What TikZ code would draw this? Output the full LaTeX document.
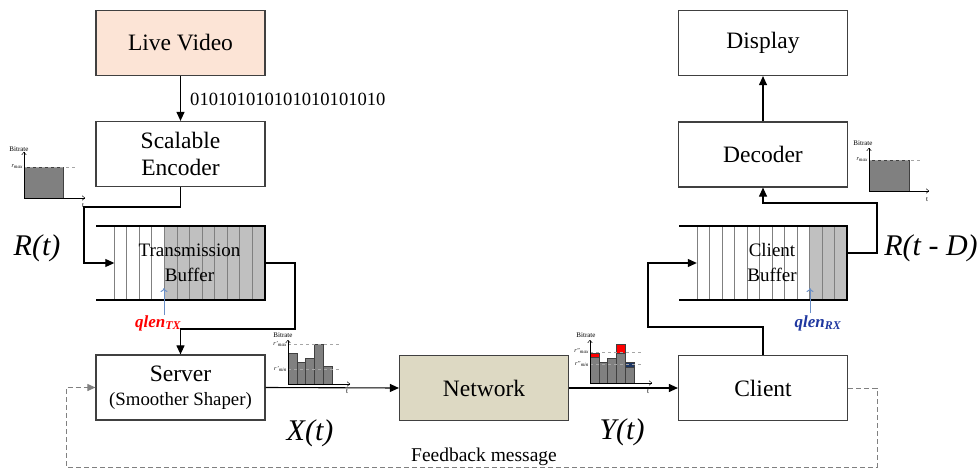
\documentclass[tikz,border=0pt]{standalone}
\usepackage{fontspec}
\setmainfont{Liberation Serif}
\usetikzlibrary{arrows.meta}
\definecolor{peach}{RGB}{252,228,214}
\definecolor{nettan}{RGB}{221,217,195}
\definecolor{bufgray}{RGB}{192,192,192}
\definecolor{bargray}{RGB}{128,128,128}
\definecolor{qblue}{RGB}{106,143,199}
\definecolor{qnavy}{RGB}{32,56,160}
\definecolor{boxline}{RGB}{64,64,64}
\definecolor{barnavy}{RGB}{31,56,100}
\definecolor{fbgray}{RGB}{128,128,128}
\begin{document}
\begin{tikzpicture}[x=1pt,y=-1pt,
  box/.style={draw=boxline, line width=1.2pt, minimum width=169pt, minimum height=65pt,
    inner sep=0pt, align=center, font=\fontsize{23.5}{27}\selectfont},
  buftext/.style={inner sep=0pt, align=center, minimum width=150pt, minimum height=74pt,
    font=\fontsize{19}{25}\selectfont},
  conn/.style={line width=1.1pt, -{Triangle[length=9pt,width=8pt]}},
  plainline/.style={line width=1.1pt},
  cellline/.style={draw=bargray, line width=0.8pt},
  bigital/.style={font=\itshape\fontsize{30}{34}\selectfont},
  axis/.style={line width=0.5pt, -{To[length=3pt,width=5pt]}},
  dashref/.style={dashed, draw=gray!70, line width=0.6pt},
  bar/.style={fill=bargray, draw=boxline, line width=0.6pt},
  tinylab/.style={font=\fontsize{7}{8}\selectfont, inner sep=0pt},
  rlab/.style={font=\itshape\fontsize{6}{7}\selectfont, inner sep=0pt, anchor=east},
  qlab/.style={font=\bfseries\itshape\fontsize{17}{20}\selectfont, inner sep=0pt},
  qarrow/.style={draw=qblue, line width=1pt, -{To[length=4pt,width=7pt]}},
  fb/.style={dashed, draw=fbgray, line width=1pt, dash pattern=on 5pt off 3pt}
]
\useasboundingbox (0,0) rectangle (979,470);

% ---------- main boxes ----------
\node[box, fill=peach] (live) at (180.5,43) {Live Video};
\node[box] (enc) at (180.5,154) {Scalable\\Encoder};
\node[box, font=\fontsize{23.5}{27}\selectfont] (srv) at (180.5,387.5)
  {Server\\[-3pt]{\fontsize{18.8}{22}\selectfont (Smoother Shaper)}};
\node[box, fill=nettan] (net) at (484,388) {Network};
\node[box] (cli) at (763,388) {Client};
\node[box] (dec) at (763,154.5) {Decoder};
\node[box] (disp) at (763,43) {Display};

% ---------- transmission buffer ----------
\fill[bufgray] (164.3,226) rectangle (265,300);
\foreach \i in {0,...,12} \draw[cellline] ({114+\i*12.583},226) -- ++(0,74);
\node[buftext] (txbuf) at (189.5,263) {Transmission\\Buffer};
\draw[plainline] (96,226) -- (265,226) -- (265,300) -- (96,300);

% ---------- client buffer ----------
\fill[bufgray] (810,226) rectangle (847,300);
\foreach \i in {0,...,12} \draw[cellline] ({697.3+\i*12.5},226) -- ++(0,74);
\node[buftext] (cbuf) at (772,263) {Client\\Buffer};
\draw[plainline] (679,226) -- (847,226) -- (847,300) -- (679,300);

% ---------- connectors ----------
\draw[conn] (live.south) -- (enc.north);
\node[anchor=west, inner sep=0pt, font=\fontsize{18.6}{22}\selectfont] (bits) at (190,99) {010101010101010101010};
\draw[conn] (enc.south) -- (180.5,207) -| (84,263) -- (txbuf.west);
\draw[conn] (txbuf.east) -- (295,263) |- (180.5,329) -- (srv.north);
\draw[conn] (srv.east) -- (net.west);
\draw[conn] (net.east) -- (cli.west);
\draw[conn] (cli.north) -- (763,327) -| (648,263) -- (cbuf.west);
\coordinate (cbufout) at (847,253);
\draw[conn] (cbufout) -- (877,253) |- (763,203) -- (dec.south);
\draw[conn] (dec.north) -- (disp.south);

% feedback
\draw[fb, -{Triangle[length=8pt,width=7pt]}] (cli.east) -- (877,388) |- (66,467) |- (srv.west);
\node[font=\fontsize{19.5}{22}\selectfont, inner sep=0pt] (fbmsg) at (484,457) {Feedback message};

% qlen markers
\node[qlab, text=red] (qtx) at (158,323) {qlen\textsubscript{TX}};
\draw[qarrow] (164,315) -- (164,288);
\node[qlab, text=qnavy] (qrx) at (818,323) {qlen\textsubscript{RX}};
\draw[qarrow] (810,313) -- (810,288);

% big labels
\node[bigital] (rt) at (37,248) {R(t)};
\node[bigital] (rtd) at (931,248) {R(t - D)};
\node[bigital] (xt) at (310,433) {X(t)};
\node[bigital] (yt) at (622,432) {Y(t)};

% ---------- chart: encoder ----------
\fill[bar] (24,167) rectangle (63,198);
\draw[dashref] (24,167) -- (76,167);
\draw[axis] (24,198) -- (24,152);
\draw[axis] (24,198) -- (85,198);
\node[tinylab] at (19,149) {Bitrate};
\node[rlab] at (23,167) {r\textsubscript{max}};
\node[tinylab] at (83,206) {t};

% ---------- chart: server ----------
\foreach \x/\t in {0/353,1/362,2/358,3/344,4/366}
  \draw[bar] ({288+\x*8.8},\t) rectangle ({288+(\x+1)*8.8},384);
\draw[dashref] (288,344) -- (340,344);
\draw[dashref] (288,369) -- (340,369);
\draw[axis] (288,384) -- (288,340);
\draw[axis] (288,384) -- (350,384);
\node[tinylab] at (283,335) {Bitrate};
\node[rlab] at (287,344) {r'\textsubscript{max}};
\node[rlab] at (287,369) {r'\textsubscript{min}};
\node[tinylab] at (347,392) {t};

% ---------- chart: network ----------
\foreach \x/\t in {0/357,1/362,2/358,3/353,4/367}
  \draw[bar] ({590+\x*8.8},\t) rectangle ({590+(\x+1)*8.8},383);
\draw[fill=red, draw=boxline, line width=0.6pt] (590,353) rectangle (598.8,357);
\draw[fill=red, draw=boxline, line width=0.6pt] (616.4,344) rectangle (625.2,353);
\draw[fill=barnavy, draw=boxline, line width=0.6pt] (625.2,362) rectangle (634,367);
\draw[dashref] (590,352) -- (641,352);
\draw[dashref] (590,364) -- (641,364);
\draw[axis] (590,383) -- (590,340);
\draw[axis] (590,383) -- (652,383);
\node[tinylab] at (586,335) {Bitrate};
\node[rlab] at (589,351) {r''\textsubscript{max}};
\node[rlab] at (589,364) {r''\textsubscript{min}};
\node[tinylab] at (648,392) {t};

% ---------- chart: decoder ----------
\fill[bar] (869,160) rectangle (909,191);
\draw[dashref] (869,160) -- (920,160);
\draw[axis] (869,191) -- (869,148);
\draw[axis] (869,191) -- (929,191);
\node[tinylab] at (863,143) {Bitrate};
\node[rlab] at (868,160) {r\textsubscript{max}};
\node[tinylab] at (927,200) {t};
\end{tikzpicture}
\end{document}
